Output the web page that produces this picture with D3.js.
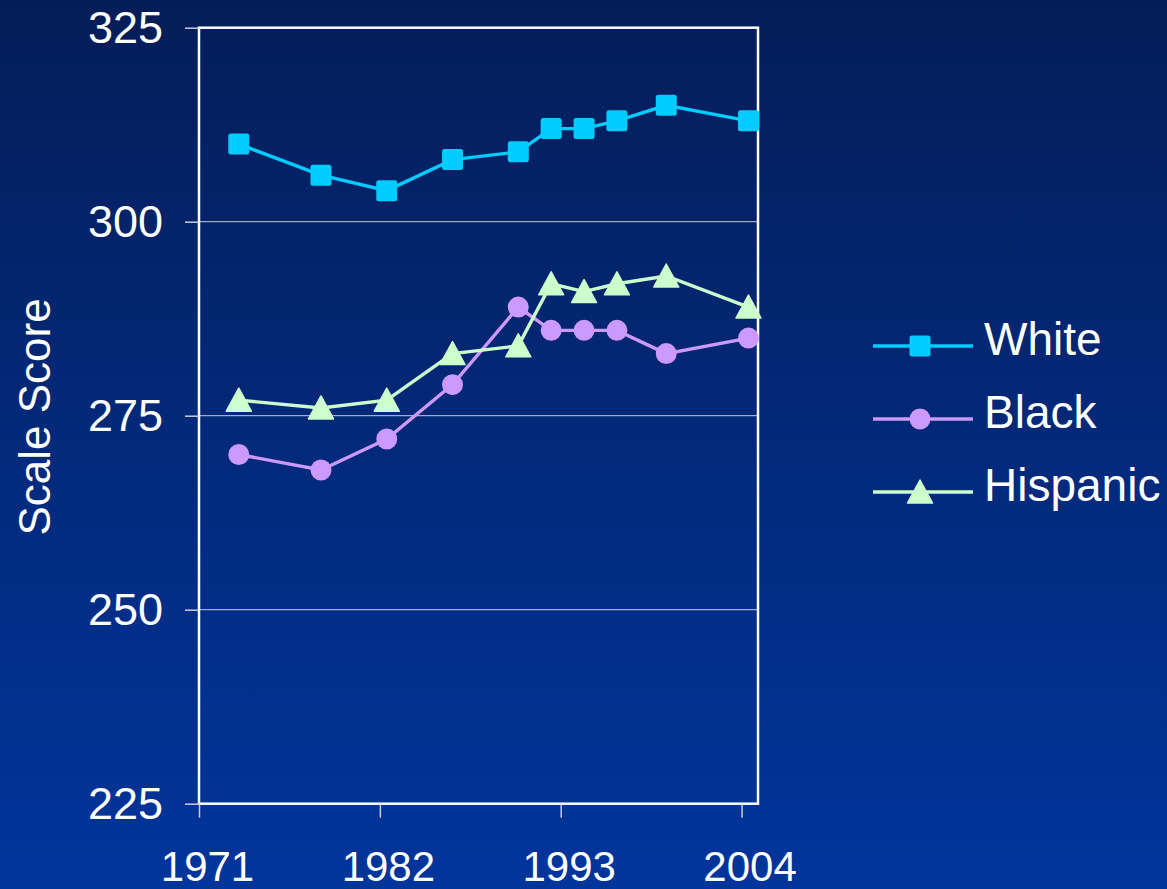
<!DOCTYPE html>
<html>
<head>
<meta charset="utf-8">
<script src="https://cdn.jsdelivr.net/npm/d3@7"></script>
<style>
  html, body { margin: 0; padding: 0; background: #00296f; }
  svg { display: block; font-family: "Liberation Sans", Arial, sans-serif; }
</style>
</head>
<body>
<svg id="chart" width="1167" height="889"></svg>
<script>
// test years (points sit roughly mid-year on the axis)
const years = [1973, 1978, 1982, 1986, 1990, 1992, 1994, 1996, 1999, 2004];
const whiteScores = [310, 306, 304, 308, 309, 312, 312, 313, 315, 313];
const blackScores = [270, 268, 272, 279, 289, 286, 286, 286, 283, 285];
const hispanicScores = [277, 276, 277, 283, 284, 292, 291, 292, 293, 289];
const xTicks = [1971, 1982, 1993, 2004];
const yTicks = [225, 250, 275, 300, 325];

const seriesList = [
    { name: "White", values: whiteScores, color: "#00ccff", marker: "square" },
    { name: "Black", values: blackScores, color: "#cc99ff", marker: "circle" },
    { name: "Hispanic", values: hispanicScores, color: "#ccffcc", marker: "triangle" }
];

const svg = d3.select("#chart");
const W = 1167, H = 889;
const plot = { left: 199, right: 758, top: 27.7, bottom: 803.7 };
const midYear = 0.42;

// background gradient
const defs = svg.append("defs");
const grad = defs.append("linearGradient")
    .attr("id", "bg").attr("x1", 0).attr("y1", 0).attr("x2", 0).attr("y2", 1);
grad.append("stop").attr("offset", "0%").attr("stop-color", "#041d58");
grad.append("stop").attr("offset", "100%").attr("stop-color", "#00359c");
svg.append("rect").attr("width", W).attr("height", H).attr("fill", "url(#bg)");

const x = d3.scaleLinear().domain([1971, 2005]).range([plot.left, plot.right]);
const y = d3.scaleLinear().domain([225, 325]).range([plot.bottom, plot.top]);

// gridlines
svg.append("g")
    .selectAll("line")
    .data(yTicks.filter(d => d > 225 && d < 325))
    .enter()
    .append("line")
    .attr("x1", plot.left).attr("x2", plot.right)
    .attr("y1", d => y(d)).attr("y2", d => y(d))
    .attr("stroke", "#c8cde0").attr("stroke-width", 1);

// frame
svg.append("rect")
    .attr("x", plot.left).attr("y", plot.top)
    .attr("width", plot.right - plot.left).attr("height", plot.bottom - plot.top)
    .attr("fill", "none").attr("stroke", "#ffffff").attr("stroke-width", 2.5);

// axes
const yAxis = svg.append("g")
    .attr("transform", `translate(${plot.left},0)`)
    .call(d3.axisLeft(y).tickValues(yTicks).tickSize(14).tickPadding(22).tickFormat(d3.format("d")));
const xAxis = svg.append("g")
    .attr("transform", `translate(0,${plot.bottom})`)
    .call(d3.axisBottom(x).tickValues(xTicks).tickSize(14).tickPadding(33).tickFormat(d3.format("d")));

[yAxis, xAxis].forEach(ax => {
    ax.select(".domain").remove();
    ax.selectAll(".tick line").attr("stroke", "#c8cde0").attr("stroke-width", 1.5);
    ax.selectAll(".tick text")
        .attr("fill", "#ffffff")
        .style("font-size", "45px")
        .style("font-family", "'Liberation Sans', Arial, sans-serif");
});
xAxis.selectAll(".tick text").style("font-size", "42px").attr("dx", 8);

// y title
svg.append("text")
    .attr("transform", "translate(50,417) rotate(-90)")
    .attr("text-anchor", "middle")
    .attr("fill", "#ffffff")
    .style("font-size", "44px")
    .text("Scale Score");

function drawMarker(sel, type, color) {
    if (type === "square") {
        sel.append("rect")
            .attr("x", -10.5).attr("y", -10.5).attr("width", 21).attr("height", 21)
            .attr("rx", 2.5).attr("fill", color);
    } else if (type === "circle") {
        sel.append("circle").attr("r", 10.5).attr("fill", color);
    } else {
        sel.append("path")
            .attr("d", "M0,-12 L12.5,11 L-12.5,11 Z")
            .attr("fill", color).attr("stroke", color)
            .attr("stroke-width", 1.5).attr("stroke-linejoin", "round");
    }
}

const line = d3.line()
    .x((d, i) => x(years[i] + midYear))
    .y(d => y(d));

seriesList.forEach(s => {
    svg.append("path")
        .datum(s.values)
        .attr("d", line)
        .attr("fill", "none")
        .attr("stroke", s.color)
        .attr("stroke-width", 3.4);

    svg.append("g")
        .selectAll("g")
        .data(s.values)
        .enter()
        .append("g")
        .attr("transform", (d, i) => `translate(${x(years[i] + midYear)},${y(d)})`)
        .each(function () { drawMarker(d3.select(this), s.marker, s.color); });
});

// legend
const legend = svg.append("g").attr("transform", "translate(873,346)");
seriesList.forEach((s, i) => {
    const row = legend.append("g").attr("transform", `translate(0,${i * 73})`);
    row.append("line")
        .attr("x1", 0).attr("x2", 100).attr("y1", 0).attr("y2", 0)
        .attr("stroke", s.color).attr("stroke-width", 3.4);
    const m = row.append("g").attr("transform", "translate(47,0)");
    drawMarker(m, s.marker, s.color);
    row.append("text")
        .attr("x", 111).attr("y", 9)
        .attr("fill", "#ffffff")
        .style("font-size", "46px")
        .text(s.name);
});
</script>
</body>
</html>
